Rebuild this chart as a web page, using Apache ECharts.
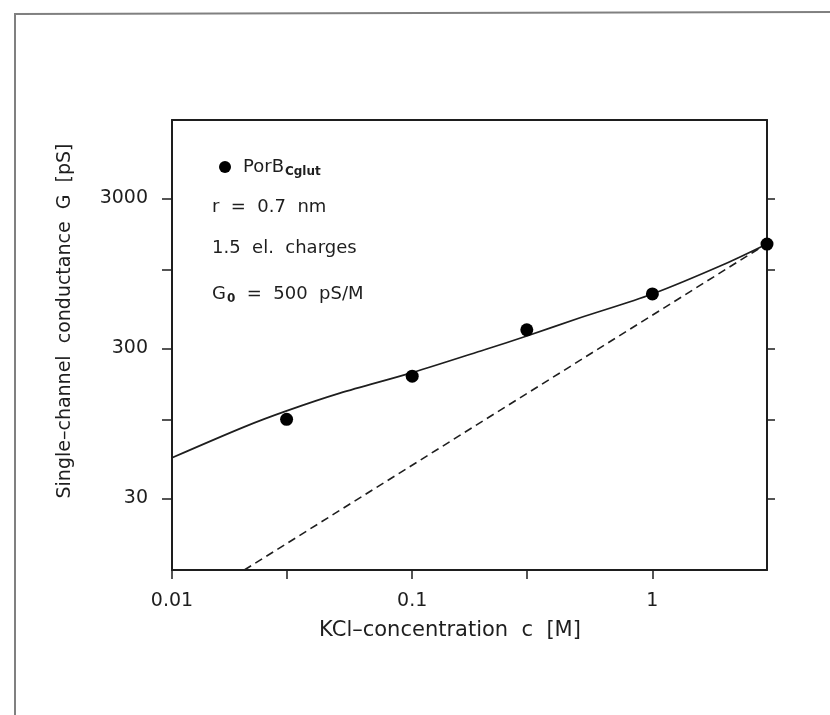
<!DOCTYPE html>
<html><head><meta charset="utf-8">
<script src="https://cdn.jsdelivr.net/npm/echarts@6/dist/echarts.min.js"></script>
<style>html,body{margin:0;padding:0;background:#fff}#c{width:830px;height:715px}</style>
</head><body><div id="c"></div>
<script>
// Measured data (KCl concentration [M] vs conductance [pS])
const measuredConc = [0.03, 0.1, 0.3, 1, 3];
const measuredG = [101, 196, 399, 693, 1489];
// Fitted curve
const fitConc = [0.01, 0.02, 0.03, 0.05, 0.1, 0.2, 0.3, 0.5, 1, 2, 3];
const fitG = [56, 90, 115, 151, 207, 294, 363, 480, 692, 1096, 1490];
// Linear G0*c line (dashed)
const linConc = [0.02, 3];
const linG = [10, 1500];
// Ticks
const xTickValues = [0.01, 0.03, 0.1, 0.3, 1];
const xLabelValues = [0.01, 0.1, 1];
const yTickValues = [30, 100, 300, 1000, 3000];
const yLabelValues = [30, 300, 3000];

const FONT = 'DejaVu Sans';
const INK = '#1e1e1e';
const zip = (a, b) => a.map((v, i) => [v, b[i]]);

const chart = echarts.init(document.getElementById('c'), null, {renderer: 'canvas'});
const axisLine = {show: true, lineStyle: {color: INK, width: 2}};
chart.setOption({
  animation: false,
  backgroundColor: '#fff',
  grid: {left: 172, right: 63, top: 120, bottom: 145, containLabel: false},
  xAxis: [
    {type: 'log', logBase: 10, min: 0.01, max: 3, position: 'bottom',
     axisLine: axisLine,
     axisTick: {show: true, inside: false, length: 9, customValues: xTickValues, lineStyle: {color: INK, width: 1.5}},
     axisLabel: {show: true, customValues: xLabelValues, margin: 22, fontFamily: FONT, fontSize: 19, color: INK,
                 formatter: v => String(v)},
     splitLine: {show: false}, minorTick: {show: false}},
    {type: 'log', logBase: 10, min: 0.01, max: 3, position: 'top',
     axisLine: axisLine, axisTick: {show: false}, axisLabel: {show: false}, splitLine: {show: false}}
  ],
  yAxis: [
    {type: 'log', logBase: 10, min: 10, max: 10000, position: 'left',
     axisLine: axisLine,
     axisTick: {show: true, inside: false, length: 10, customValues: yTickValues, lineStyle: {color: INK, width: 1.5}},
     axisLabel: {show: true, customValues: yLabelValues, margin: 24, fontFamily: FONT, fontSize: 19, color: INK,
                 formatter: v => String(v)},
     splitLine: {show: false}},
    {type: 'log', logBase: 10, min: 10, max: 10000, position: 'right',
     axisLine: axisLine,
     axisTick: {show: true, inside: false, length: 8, customValues: yTickValues, lineStyle: {color: INK, width: 1.5}},
     axisLabel: {show: false}, splitLine: {show: false}}
  ],
  legend: {
    show: true, left: 214, top: 153, orient: 'vertical',
    itemWidth: 12, itemHeight: 12,
    data: [{name: 'PorB', icon: 'circle'}],
    formatter: () => '{a|PorB}{b|Cglut}',
    textStyle: {fontFamily: FONT, color: INK,
      rich: {a: {fontSize: 18, fontFamily: FONT, color: INK, padding: [0, 0, 0, 7]},
             b: {fontSize: 12, fontFamily: FONT, fontWeight: 'bold', color: INK, padding: [10, 0, 0, 1]}}}
  },
  series: [
    {name: 'fit', type: 'line', xAxisIndex: 0, yAxisIndex: 0, data: zip(fitConc, fitG),
     smooth: 0.3, symbol: 'none', lineStyle: {color: INK, width: 1.7}, z: 2},
    {name: 'linear', type: 'line', xAxisIndex: 0, yAxisIndex: 0, data: zip(linConc, linG),
     symbol: 'none', lineStyle: {color: INK, width: 1.6, type: [8, 5]}, z: 2},
    {name: 'PorB', type: 'scatter', xAxisIndex: 0, yAxisIndex: 0, data: zip(measuredConc, measuredG),
     symbol: 'circle', symbolSize: 13, itemStyle: {color: '#000', opacity: 1}, z: 3}
  ],
  graphic: [
    {type: 'polyline', shape: {points: [[15, 715], [15, 14], [830, 12]]}, style: {stroke: '#808080', lineWidth: 2, fill: null}},
    {type: 'text', left: 212, top: 198, style: {text: 'r  =  0.7  nm', font: '18px "DejaVu Sans"', fill: INK}},
    {type: 'text', left: 212, top: 239, style: {text: '1.5  el.  charges', font: '18px "DejaVu Sans"', fill: INK}},
    {type: 'text', left: 212, top: 285, style: {text: '{a|G}{b|0}{a|  =  500  pS/M}', fill: INK,
      rich: {a: {fontSize: 18, fontFamily: FONT, fill: INK}, b: {fontSize: 12, fontFamily: FONT, fontWeight: 'bold', fill: INK, padding: [10, 0, 0, 1]}}}},
    {type: 'text', x: 450, y: 631, style: {text: 'KCl–concentration  c  [M]', font: '21px "DejaVu Sans"', fill: INK,
      align: 'center', verticalAlign: 'middle'}},
    {type: 'text', x: 65, y: 321, rotation: Math.PI / 2, style: {text: 'Single–channel  conductance  G  [pS]', font: '19px "DejaVu Sans"', fill: INK,
      align: 'center', verticalAlign: 'middle'}}
  ]
});
</script></body></html>
